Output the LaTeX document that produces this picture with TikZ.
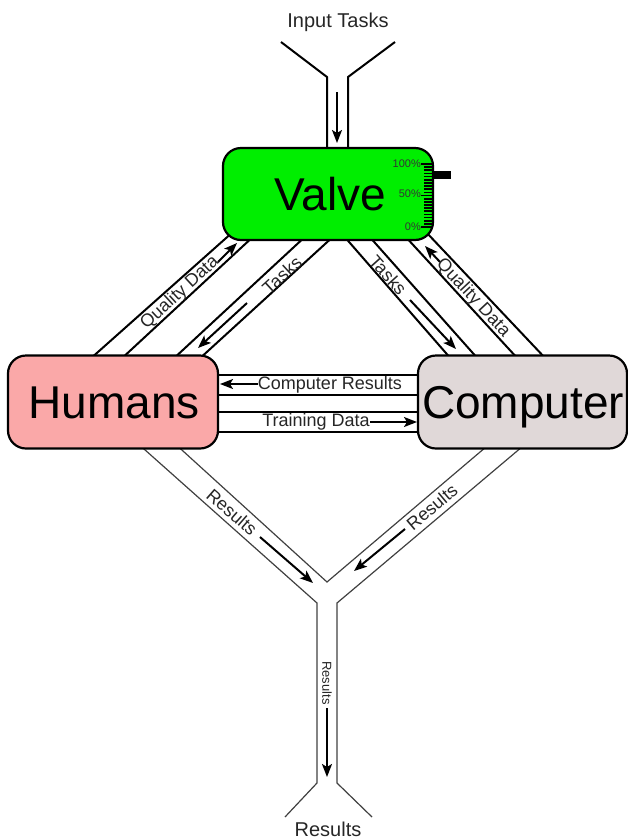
\documentclass[tikz,border=0pt]{standalone}
\usepackage{fontspec}
\setmainfont{Liberation Sans}
\usetikzlibrary{arrows.meta}
\definecolor{valvegreen}{RGB}{0,238,0}
\definecolor{humanpink}{RGB}{250,168,168}
\definecolor{compgrey}{RGB}{224,216,216}
\tikzset{
  box/.style={draw=black, line width=2.2pt, rounded corners=18pt, minimum width=210pt, minimum height=93pt, inner sep=0pt},
  chan/.style={line width=2pt, draw=black},
  thinchan/.style={line width=1.2pt, draw=black!75},
  flow/.style={line width=2pt, -{Stealth[length=13pt,width=10pt,inset=3pt]}},
  lbl/.style={font=\fontsize{18}{20}\selectfont, text=black!85, inner sep=0pt},
  endlbl/.style={font=\fontsize{20}{22}\selectfont, text=black!85, inner sep=0pt},
  bigtxt/.style={font=\fontsize{46}{50}\selectfont, text=black, inner sep=0pt},
  gauge/.style={font=\fontsize{11}{12}\selectfont, text=black!80, inner sep=0pt},
}
\begin{document}
\begin{tikzpicture}[x=1pt,y=-1pt]
\useasboundingbox (0,0) rectangle (628,839);
% ---------- coordinates: input funnel ----------
\coordinate (fa1) at (281,42);  \coordinate (fa2) at (327,77);  \coordinate (fa3) at (327,156);
\coordinate (fb1) at (395,42);  \coordinate (fb2) at (348,77);  \coordinate (fb3) at (348,156);
% ---------- channels valve <-> humans ----------
\coordinate (l1a) at (89,360);  \coordinate (l1b) at (234,231);
\coordinate (l2a) at (119,361); \coordinate (l2b) at (256,234);
\coordinate (l3a) at (171,361); \coordinate (l3b) at (308,234);
\coordinate (l4a) at (197,361); \coordinate (l4b) at (336,234);
% ---------- channels valve <-> computer ----------
\coordinate (r1a) at (343,235); \coordinate (r1b) at (452,360);
\coordinate (r2a) at (368,235); \coordinate (r2b) at (479,360);
\coordinate (r3a) at (404,235); \coordinate (r3b) at (519,360);
\coordinate (r4a) at (426,232); \coordinate (r4b) at (547,360);
% ---------- horizontal channels ----------
\coordinate (h1a) at (210,375); \coordinate (h1b) at (425,375);
\coordinate (h2a) at (210,395); \coordinate (h2b) at (425,395);
\coordinate (h3a) at (210,412); \coordinate (h3b) at (425,412);
\coordinate (h4a) at (210,432); \coordinate (h4b) at (425,432);
% ---------- result channels ----------
\coordinate (bo1) at (135,441); \coordinate (bo2) at (317,603); \coordinate (bo3) at (317,783); \coordinate (bo4) at (285,817);
\coordinate (bp1) at (529,441); \coordinate (bp2) at (337,603); \coordinate (bp3) at (337,783); \coordinate (bp4) at (372,817);
\coordinate (bi1) at (172,441); \coordinate (apex) at (327,582); \coordinate (bi2) at (493,441);

% ---------- channel lines ----------
\draw[chan] (fa1) -- (fa2) -- (fa3);
\draw[chan] (fb1) -- (fb2) -- (fb3);
\foreach \c in {l1,l2,l3,l4,r1,r2,r3,r4,h1,h2,h3,h4}{\draw[chan] (\c a) -- (\c b);}
\draw[thinchan] (bo1) -- (bo2) -- (bo3) -- (bo4);
\draw[thinchan] (bp1) -- (bp2) -- (bp3) -- (bp4);
\draw[thinchan] (bi1) -- (apex) -- (bi2);

% ---------- boxes ----------
\node[box, fill=valvegreen, minimum height=92pt] (valve) at (328,194) {};
\node[box, fill=humanpink] (humans) at (113,402) {};
\node[box, fill=compgrey, minimum width=209pt] (computer) at (522.5,402) {};
\node[bigtxt, anchor=base] (valvetxt) at (330,210) {Valve};
\node[bigtxt, anchor=base] (humanstxt) at (114,418) {Humans};
\node[bigtxt, anchor=base] (computertxt) at (523,418) {Computer};

% ---------- gauge ----------
\foreach \i in {0,...,20}{
  \pgfmathsetmacro{\yy}{164+\i*3.15}
  \pgfmathtruncatemacro{\mj}{mod(\i,10)==0 ? 1 : 0}
  \ifnum\mj=1 \draw[line width=1.7pt] (421,\yy) -- (433,\yy); \else \draw[line width=1.7pt] (424,\yy) -- (433,\yy); \fi
}
\fill[black] (433,171) rectangle (451,178.5);
\node[gauge, anchor=east] (g100) at (421,164) {100\%};
\node[gauge, anchor=east] (g50) at (421,194) {50\%};
\node[gauge, anchor=east] (g0) at (421,227) {0\%};

% ---------- arrows ----------
\coordinate (ai1) at (337,92);  \coordinate (ai2) at (337,143);
\coordinate (aq1) at (218,262); \coordinate (aq2) at (237,243);
\coordinate (at1) at (247,303); \coordinate (at2) at (198,348);
\coordinate (ar1) at (410,300); \coordinate (ar2) at (456,349);
\coordinate (as1) at (440,262); \coordinate (as2) at (425,246);
\coordinate (ac1) at (258,384); \coordinate (ac2) at (220,384);
\coordinate (ad1) at (370,422); \coordinate (ad2) at (417,422);
\coordinate (ae1) at (260,537); \coordinate (ae2) at (313,583);
\coordinate (af1) at (405,529); \coordinate (af2) at (354,571);
\coordinate (ag1) at (327,708); \coordinate (ag2) at (327,777);
\foreach \a in {ai,aq,at,ar,as,ac,ad,ae,af,ag}{\draw[flow] (\a1) -- (\a2);}

% ---------- labels ----------
\node[endlbl, anchor=base] (inputlbl) at (338,27) {Input Tasks};
\node[endlbl, anchor=base] (resultslbl) at (328,836) {Results};
\node[lbl, rotate=42.6] (qdl) at (180,293) {Quality Data};
\node[lbl, rotate=42.6] (tkl) at (282,275) {Tasks};
\node[lbl, rotate=-48] (tkr) at (388,275) {Tasks};
\node[lbl, rotate=-47] (qdr) at (473,298) {Quality Data};
\node[lbl] (crl) at (330,385) {Computer Results};
\node[lbl] (tdl) at (316,422) {Training Data};
\node[lbl, rotate=-41.3] (rsl) at (232,512) {Results};
\node[lbl, rotate=40] (rsr) at (432,507) {Results};
\node[lbl, rotate=-90, font=\fontsize{13}{15}\selectfont] (rsv) at (327,683) {Results};
\end{tikzpicture}
\end{document}
